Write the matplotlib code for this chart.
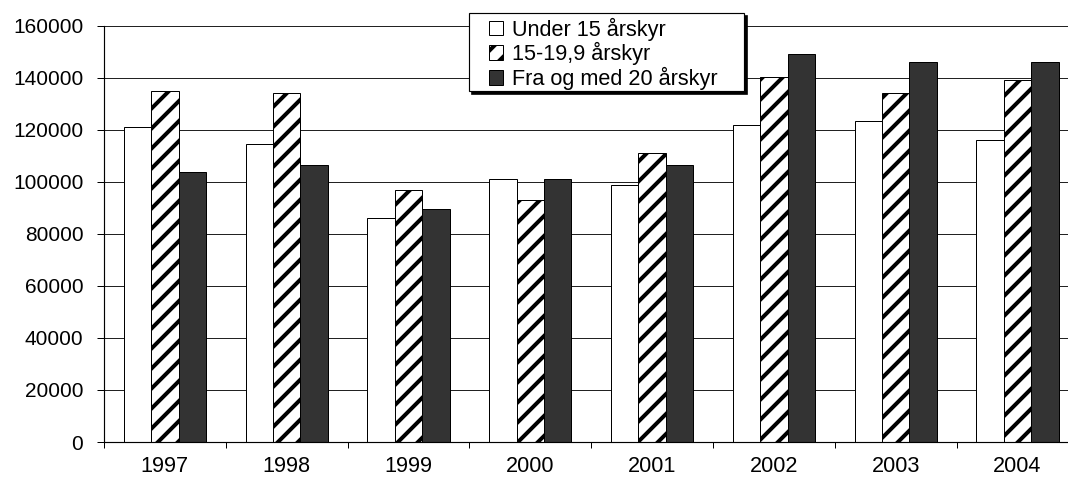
import matplotlib
matplotlib.use("Agg")
import matplotlib.pyplot as plt
from matplotlib.patches import Rectangle
import numpy as np

years = ["1997", "1998", "1999", "2000", "2001", "2002", "2003", "2004"]
under15 = [121000, 114500, 85900, 101200, 98700, 121800, 123200, 116200]
mid15_19 = [135000, 134100, 96900, 93000, 111000, 140300, 134300, 139200]
from20 = [103600, 106400, 89600, 100900, 106400, 149200, 145900, 146000]
series_labels = ["Under 15 årskyr", "15-19,9 årskyr", "Fra og med 20 årskyr"]
yticks = [0, 20000, 40000, 60000, 80000, 100000, 120000, 140000, 160000]

W, H, DPI = 1068, 477, 120
plt.rcParams['font.family'] = ['Liberation Sans', 'DejaVu Sans']
plt.rcParams['hatch.linewidth'] = 2.4
plt.rcParams['hatch.color'] = 'black'

fig = plt.figure(figsize=(W / DPI, H / DPI), dpi=DPI)
ax_left, ax_right = 104, 1078.4
ax_top, ax_bot = 25.7, 442
ax = fig.add_axes([ax_left / W, 1 - ax_bot / H, (ax_right - ax_left) / W, (ax_bot - ax_top) / H])

x = np.arange(len(years))
bw = 0.225
b1 = ax.bar(x - bw, under15, bw, color='white', edgecolor='black', linewidth=0.6, zorder=3, label=series_labels[0])
b2 = ax.bar(x, mid15_19, bw, color='white', edgecolor='black', linewidth=0.6, hatch='//', zorder=3, label=series_labels[1])
b3 = ax.bar(x + bw, from20, bw, color='#333333', edgecolor='black', linewidth=0.6, zorder=3, label=series_labels[2])

ax.set_xlim(-0.5, len(years) - 0.5)
ax.set_ylim(0, 160000)
ax.set_yticks(yticks)
ax.set_yticklabels([str(v) for v in yticks], fontsize=12.5)
ax.set_xticks(x)
ax.set_xticklabels(years, fontsize=13)
ax.set_xticks(np.arange(-0.5, len(years)), minor=True)
ax.tick_params(axis='x', which='major', length=0, pad=8.5)
ax.tick_params(axis='x', which='minor', length=3.5, width=0.6, direction='out')
ax.tick_params(axis='y', length=4.2, width=0.6, direction='out', pad=8.2)
ax.yaxis.grid(True, color='#222222', linewidth=0.6, zorder=0)
ax.set_axisbelow(True)
for s in ['top', 'right']:
    ax.spines[s].set_visible(False)
for s in ['left', 'bottom']:
    ax.spines[s].set_linewidth(0.7)
    ax.spines[s].set_zorder(4)

# legend frame with shadow
lx0, lx1, ly0, ly1 = 469, 744, 12.7, 90.5
sh = 3
fig.patches.append(Rectangle(((lx0 + sh) / W, 1 - (ly1 + sh) / H), (lx1 - lx0) / W, (ly1 - ly0) / H,
                             transform=fig.transFigure, facecolor='black', edgecolor='black', zorder=10))
fig.patches.append(Rectangle((lx0 / W, 1 - ly1 / H), (lx1 - lx0) / W, (ly1 - ly0) / H,
                             transform=fig.transFigure, facecolor='white', edgecolor='black', linewidth=0.7, zorder=11))
leg = fig.legend(handles=[b1, b2, b3], labels=series_labels, loc='upper left',
                 bbox_to_anchor=(489 / W, 1 - 17.5 / H), frameon=False, fontsize=13,
                 borderpad=0, handlelength=0.65, handleheight=0.65, handletextpad=0.4,
                 labelspacing=0.07, borderaxespad=0)
leg.set_zorder(12)

fig.savefig("out.png", dpi=DPI)
